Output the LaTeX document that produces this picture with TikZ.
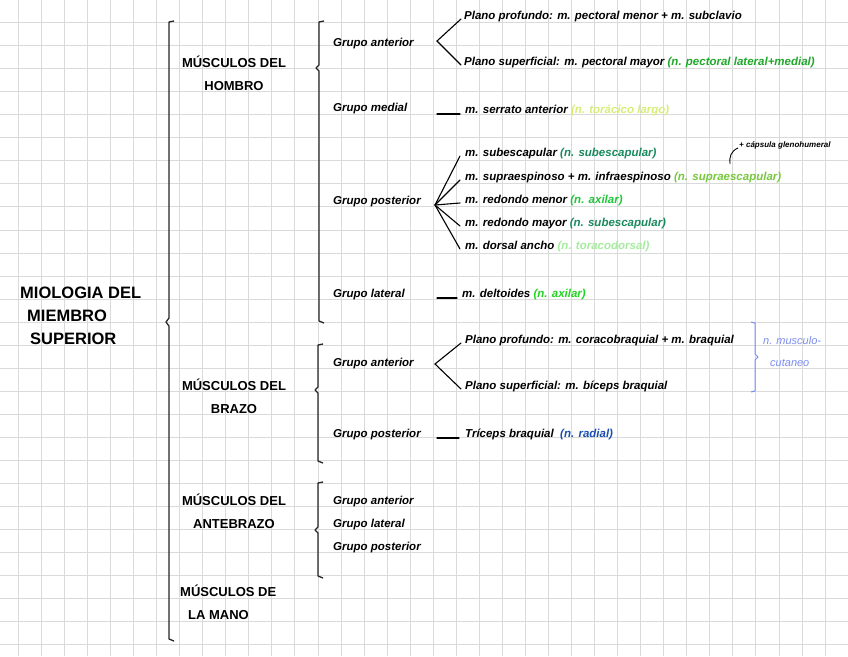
\documentclass[tikz,border=0pt]{standalone}
\usepackage{fontspec}
\setmainfont{Liberation Sans}
\definecolor{gridgray}{HTML}{DADADA}
\definecolor{pectoral}{HTML}{1FA82A}
\definecolor{toracico}{HTML}{D6EE78}
\definecolor{subesc}{HTML}{1A8A5E}
\definecolor{supraesc}{HTML}{78C840}
\definecolor{axilar}{HTML}{22C43C}
\definecolor{toracodorsal}{HTML}{A6EC9E}
\definecolor{deltax}{HTML}{22D422}
\definecolor{muscucut}{HTML}{7B8CF0}
\definecolor{radial}{HTML}{1A4FB0}
\begin{document}
\begin{tikzpicture}[x=1pt, y=-1pt,
  every node/.style={inner sep=0pt},
  head/.style={font=\bfseries\fontsize{13}{23}\selectfont, align=center},
  grp/.style={font=\bfseries\itshape\fontsize{11.5}{23}\selectfont, anchor=base west},
  item/.style={font=\bfseries\itshape\fontsize{11.5}{12}\selectfont, anchor=base west},
  brace/.style={line width=1.3pt, draw=black!85, line join=round},
  tie/.style={line width=1.1pt, line cap=round}]
  \useasboundingbox (0,0) rectangle (848,656);
  \fill[white] (0,0) rectangle (848,656);

  % squared paper
  \foreach \i in {0,...,36}
    \draw[gridgray, line width=0.9pt] (18.3+23.05*\i,0) -- ++(0,656);
  \foreach \j in {0,...,27}
    \draw[gridgray, line width=0.9pt] (0,22.5+23.05*\j) -- ++(848,0);

  % title and main brace
  \node[head, align=left, anchor=west, font=\bfseries\fontsize{16.5}{23}\selectfont] (title) at (20,316)
    {MIOLOGIA DEL\\\hspace*{7pt}MIEMBRO\\\hspace*{10pt}SUPERIOR};
  \draw[brace] (174,21) -- (169,22) -- (169,318) -- (166,322) -- (169,326) -- (169,639) -- (174,641);

  \node[head] (hombro) at (234,73) {MÚSCULOS DEL\\HOMBRO};
  \node[head] (brazo) at (234,396) {MÚSCULOS DEL\\BRAZO};
  \node[head] (antebrazo) at (234,511) {MÚSCULOS DEL\\ANTEBRAZO};
  \node[head, align=left, anchor=west] (mano) at (180,602) {MÚSCULOS DE\\\hspace*{8pt}LA MANO};

  % hombro
  \draw[brace] (324,21) -- (319,22) -- (319,65) -- (316,68) -- (319,71) -- (319,321) -- (324,323);
  \node[grp] (hAnt) at (333,46) {Grupo anterior};
  \node[item] (hAntPro) at (464,19) {Plano profundo: m. pectoral menor + m. subclavio};
  \node[item] (hAntSup) at (464,65) {Plano superficial: m. pectoral mayor {\color{pectoral}(n. pectoral lateral+medial)}};
  \coordinate (hAntV) at (437,41);
  \draw[tie] ([xshift=-3pt]hAntPro.base west) -- (hAntV) -- ([xshift=-3pt]hAntSup.base west);

  \node[grp] (hMed) at (333,111) {Grupo medial};
  \node[item] (hMedSer) at (465,113) {m. serrato anterior {\color{toracico}(n. torácico largo)}};
  \coordinate (hMedV) at (437,114);
  \draw[tie] (hMedV) -- ([xshift=-5pt,yshift=-1pt]hMedSer.base west);

  \node[grp] (hPos) at (333,204) {Grupo posterior};
  \node[item] (hPosSub) at (465,156) {m. subescapular {\color{subesc}(n. subescapular)}};
  \node[item] (hPosSup) at (465,180) {m. supraespinoso + m. infraespinoso {\color{supraesc}(n. supraescapular)}};
  \node[item] (hPosRme) at (465,203) {m. redondo menor {\color{axilar}(n. axilar)}};
  \node[item] (hPosRma) at (465,226) {m. redondo mayor {\color{subesc}(n. subescapular)}};
  \node[item] (hPosDor) at (465,249) {m. dorsal ancho {\color{toracodorsal}(n. toracodorsal)}};
  \coordinate (hPosV) at (435,205);
  \foreach \m in {hPosSub,hPosSup,hPosRme,hPosRma,hPosDor}
    \draw[tie] (hPosV) -- ([xshift=-5pt]\m.base west);
  \node[font=\bfseries\itshape\fontsize{8}{9}\selectfont, anchor=base west] (capsula) at (739,147) {+ cápsula glenohumeral};
  \draw[line width=0.9pt] ([xshift=-1pt,yshift=-1pt]capsula.base west) .. controls (731,151) and (729,157) .. (730,164);

  \node[grp] (hLat) at (333,297) {Grupo lateral};
  \node[item] (hLatDel) at (462,297) {m. deltoides {\color{deltax}(n. axilar)}};
  \coordinate (hLatV) at (437,298);
  \draw[tie] (hLatV) -- ([xshift=-5pt,yshift=-1pt]hLatDel.base west);

  % brazo
  \draw[brace] (323,344) -- (318,345) -- (318,387) -- (315,390) -- (318,393) -- (318,461) -- (323,463);
  \node[grp] (bAnt) at (333,366) {Grupo anterior};
  \node[item] (bAntPro) at (465,343) {Plano profundo: m. coracobraquial + m. braquial};
  \node[item] (bAntSup) at (465,389) {Plano superficial: m. bíceps braquial};
  \coordinate (bAntV) at (435,364);
  \draw[tie] ([xshift=-4pt]bAntPro.base west) -- (bAntV) -- ([xshift=-4pt]bAntSup.base west);
  \draw[muscucut, line width=1pt] (751,322) -- (755,323) -- (755,354) -- (758,357) -- (755,360) -- (755,391) -- (751,392);
  \node[item, text=muscucut, align=left, font=\itshape\fontsize{11}{22}\selectfont] (muscu) at (763,366) {n. musculo-\\\hspace*{7pt}cutaneo};

  \node[grp] (bPos) at (333,437) {Grupo posterior};
  \node[item] (bPosTri) at (465,437) {Tríceps braquial \ {\color{radial}(n. radial)}};
  \coordinate (bPosV) at (437,438);
  \draw[tie] (bPosV) -- ([xshift=-6pt,yshift=-1pt]bPosTri.base west);

  % antebrazo
  \draw[brace] (323,482) -- (318,483) -- (318,527) -- (315,530) -- (318,533) -- (318,576) -- (323,578);
  \node[grp] (aAnt) at (333,504) {Grupo anterior};
  \node[grp] (aLat) at (333,527) {Grupo lateral};
  \node[grp] (aPos) at (333,550) {Grupo posterior};
\end{tikzpicture}
\end{document}
